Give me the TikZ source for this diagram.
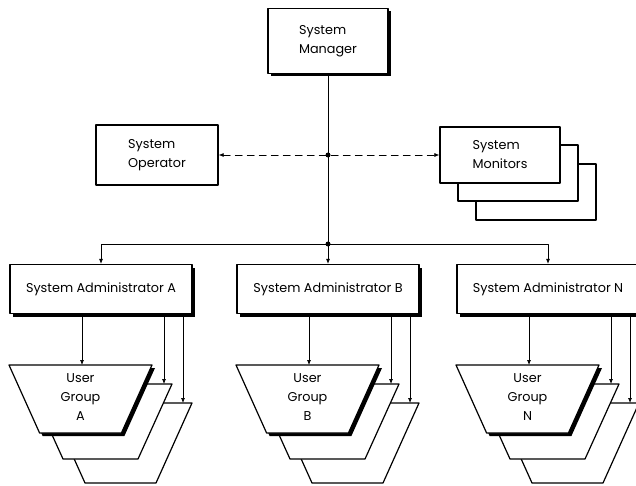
\documentclass[tikz,border=0pt]{standalone}
\usepackage{fontspec}
\setmainfont{Poppins}
\usetikzlibrary{arrows.meta,shadows}

\begin{document}
\begin{tikzpicture}[>={Latex[length=5pt,width=4pt]}, line cap=round, line join=round, x=1pt, y=-1pt,
	txt/.style={font=\fontsize{12.8}{19}\selectfont},
	plainbox/.style={draw, line width=1.3pt, fill=white, align=left, txt},
	mainbox/.style={plainbox, drop shadow={shadow xshift=3pt, shadow yshift=-3pt, fill=black, opacity=1}},
	group/.style={draw, line width=1.2pt, fill=white},
	link/.style={line width=0.7pt}]
	
	\useasboundingbox[fill=white] (0,0) rectangle (636,486);
	
	% top of the hierarchy
	\node[mainbox, minimum width=120pt, minimum height=65pt] (man) at (328,41) {System\\Manager};
	\node[plainbox, minimum width=122pt, minimum height=60pt] (op) at (157,155) {System\\Operator};
	
	% monitors: a stack of three sheets
	\node[plainbox, minimum width=120pt, minimum height=56pt] (mon3) at (536,192) {};
	\node[plainbox, minimum width=120pt, minimum height=56pt] (mon2) at (518,173) {};
	\node[plainbox, minimum width=120pt, minimum height=56pt] (mon) at (500,155) {System\\Monitors};
	
	% junctions on the main line
	\coordinate (j1) at (328,155);
	\coordinate (j2) at (328,244);
	
	% administrators
	\node[mainbox, minimum width=182pt, minimum height=49pt] (admA) at (101,289) {System Administrator A};
	\node[mainbox, minimum width=182pt, minimum height=49pt] (admB) at (328,289) {System Administrator B};
	\node[mainbox, minimum width=182pt, minimum height=49pt] (admN) at (548,289) {System Administrator N};
	
	% lines between the levels
	\draw[link] (man.south) -- (j2);
	\draw[link, <->, dash pattern=on 7pt off 5pt] (op.east) -- (mon.west);
	\fill (j1) circle (2.5pt);
	\fill (j2) circle (2.5pt);
	\draw[link, ->] (j2) -| (admA.north);
	\draw[link, ->] (j2) -| (admN.north);
	\draw[link, ->] (j2) -- (admB.north);
	
	% user groups under each administrator
	\foreach \g/\gx in {A/9, B/236, N/456}{
		% back sheets
		\draw[group] (\gx+40,403) -- ++(143,0) -- ++(-36,80) -- ++(-71,0) -- cycle;
		\draw[group] (\gx+20,384) -- ++(143,0) -- ++(-34,75) -- ++(-75,0) -- cycle;
		% front sheet with its shadow
		\fill (\gx+3,368) -- ++(143,0) -- ++(-30.6,68) -- ++(-81.8,0) -- cycle;
		\draw[group] (\gx,365) -- ++(143,0) -- ++(-30.6,68) -- ++(-81.8,0) -- cycle;
		\node[txt, align=center] (grp\g) at (\gx+71.5,397) {User\\Group\\\g};
		
		\coordinate (u\g1) at (\gx+73,365);
		\coordinate (u\g2) at (\gx+155,384);
		\coordinate (u\g3) at (\gx+174,403);
		\draw[link, ->] (adm\g.south -| u\g1) -- (u\g1);
		\draw[link, ->] (adm\g.south -| u\g2) -- (u\g2);
		\draw[link, ->] (adm\g.south -| u\g3) -- (u\g3);
	}
	
\end{tikzpicture}
\end{document}
